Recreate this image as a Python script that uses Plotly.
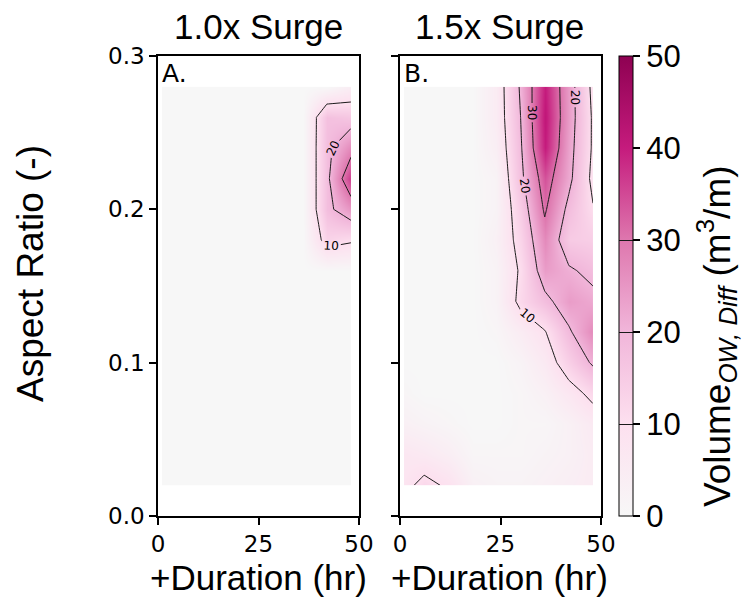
import plotly.graph_objects as go

# Storm duration added (hr) and structure aspect ratio (-)
duration_hr = [1, 6, 12, 18, 24, 30, 36, 42, 48]
aspect_ratio = [0.02, 0.04, 0.06, 0.08, 0.10, 0.12, 0.14,
                0.16, 0.18, 0.20, 0.22, 0.24, 0.26, 0.28]

# Overwash volume difference (m^3/m), rows follow aspect_ratio, columns follow duration_hr
vol_surge_1p0x = [
    [0, 0, 0, 0, 0, 0, 0, 0, 0],
    [0, 0, 0, 0, 0, 0, 0, 0, 0],
    [0, 0, 0, 0, 0, 0, 0, 0, 0],
    [0, 0, 0, 0, 0, 0, 0, 0, 0],
    [0, 0, 0, 0, 0, 0, 0, 0, 0],
    [0, 0, 0, 0, 0, 0, 0, 0, 0],
    [0, 0, 0, 0, 0, 0, 0, 0, 0],
    [0, 0, 0, 0, 0, 0, 0, 0, 0],
    [0, 0, 0, 0, 0, 0, 0, 13, 11],
    [0, 0, 0, 0, 0, 0, 0, 18, 25],
    [0, 0, 0, 0, 0, 0, 0, 18, 37],
    [0, 0, 0, 0, 0, 0, 0, 18, 27],
    [0, 0, 0, 0, 0, 0, 0, 17.6, 16],
    [0, 0, 0, 0, 0, 0, 0, 0, 4],
]

vol_surge_1p5x = [
    [8, 12, 9, 3, 2, 2, 3, 4, 5],
    [7, 6, 4, 1, 1, 1, 2, 3, 5],
    [3, 2, 1, 0, 0, 1, 1, 3, 6],
    [1, 0, 0, 0, 0, 1, 3, 7, 12],
    [0, 0, 0, 0, 0, 2, 6, 14, 21],
    [0, 0, 0, 0, 1, 5, 9.5, 19, 27],
    [0, 0, 0, 0, 2, 12, 18, 24, 22],
    [0, 0, 0, 0, 2, 11, 24, 21, 18],
    [0, 0, 0, 0, 3, 13, 27, 15, 14],
    [0, 0, 0, 0, 2, 15, 31, 18, 10.5],
    [0, 0, 0, 0, 2, 18, 34, 22, 8],
    [0, 0, 0, 0, 4, 19, 40, 23, 9],
    [0, 0, 0, 0, 5, 20, 41, 24, 9],
    [0, 0, 0, 0, 5, 21, 40, 24, 8],
]

panel_titles = ["1.0x Surge", "1.5x Surge"]
panel_letters = ["A.", "B."]
x_ticks = [0, 25, 50]
y_ticks = [0.0, 0.1, 0.2, 0.3]
cbar_ticks = [0, 10, 20, 30, 40, 50]

# pink half of a diverging PiYG map, grey-white at zero
pink_scale = [
    [0.0, "#f7f7f7"],
    [0.2, "#fde0ef"],
    [0.4, "#f1b6da"],
    [0.6, "#de77ae"],
    [0.8, "#c51b7d"],
    [1.0, "#8e0152"],
]

W, H = 744, 605
ARIAL = "Liberation Sans"
DEJAVU = "DejaVu Sans"


def px_x(p):
    return p / W


def px_y(p):
    return 1 - p / H


contour_style = dict(
    x=duration_hr,
    y=aspect_ratio,
    zmin=0,
    zmax=50,
    colorscale=pink_scale,
    autocontour=False,
    contours=dict(
        start=10, end=30, size=10,
        coloring="heatmap",
        showlabels=True,
        labelfont=dict(family=DEJAVU, size=12, color="black"),
    ),
    line=dict(color="#1a1a1a", width=1, smoothing=0),
    hoverinfo="skip",
)

fig = go.Figure()
fig.add_trace(go.Contour(z=vol_surge_1p0x, xaxis="x", yaxis="y",
                         showscale=False, **contour_style))
fig.add_trace(go.Contour(
    z=vol_surge_1p5x, xaxis="x2", yaxis="y2", showscale=True,
    colorbar=dict(
        x=px_x(619), xanchor="left", xpad=0,
        y=px_y(516), yanchor="bottom", ypad=0,
        len=460 / H, lenmode="fraction",
        thickness=14, thicknessmode="pixels",
        outlinewidth=1, outlinecolor="black",
        tickvals=cbar_ticks, ticks="outside", ticklen=7,
        tickwidth=1.5, tickcolor="black",
        tickfont=dict(family=ARIAL, size=31, color="black"),
    ),
    **contour_style))

axis_common = dict(
    showline=True, linecolor="black", linewidth=1.5, mirror=True,
    ticks="outside", ticklen=7, tickwidth=1.5, tickcolor="black",
    showgrid=False, zeroline=False,
    tickfont=dict(family=DEJAVU, size=23, color="black"),
)

fig.update_layout(
    width=W, height=H,
    margin=dict(l=0, r=0, t=0, b=0, autoexpand=False),
    paper_bgcolor="white",
    plot_bgcolor="white",
    showlegend=False,
    xaxis=dict(domain=[px_x(158), px_x(359)], range=[0, 50],
               tickvals=x_ticks, anchor="y", **axis_common),
    yaxis=dict(domain=[px_y(516), px_y(56)], range=[0, 0.3],
               tickvals=y_ticks, tickformat=".1f", anchor="x", **axis_common),
    xaxis2=dict(domain=[px_x(400), px_x(601)], range=[0, 50],
                tickvals=x_ticks, anchor="y2", **axis_common),
    yaxis2=dict(domain=[px_y(516), px_y(56)], range=[0, 0.3],
                tickvals=y_ticks, showticklabels=False, anchor="x2",
                **axis_common),
)

annotations = []
for i, (cx, left) in enumerate([(258, 160), (500, 402)]):
    annotations.append(dict(
        text=panel_titles[i], x=px_x(cx), y=px_y(27), xref="paper", yref="paper",
        showarrow=False, xanchor="center", yanchor="middle",
        font=dict(family=ARIAL, size=35, color="black")))
    annotations.append(dict(
        text="+Duration (hr)", x=px_x(cx), y=px_y(577), xref="paper", yref="paper",
        showarrow=False, xanchor="center", yanchor="middle",
        font=dict(family=ARIAL, size=35, color="black")))
    annotations.append(dict(
        text=panel_letters[i], x=px_x(left), y=px_y(73), xref="paper", yref="paper",
        showarrow=False, xanchor="left", yanchor="middle",
        font=dict(family=DEJAVU, size=25, color="black")))

annotations.append(dict(
    text="Aspect Ratio (-)", x=px_x(30), y=px_y(274), xref="paper", yref="paper",
    showarrow=False, textangle=-90, xanchor="center", yanchor="middle",
    font=dict(family=ARIAL, size=37, color="black")))
annotations.append(dict(
    text="Volume<sub><i>OW, Diff</i></sub> (m<sup>3</sup>/m)",
    x=px_x(716), y=px_y(336), xref="paper", yref="paper",
    showarrow=False, textangle=-90, xanchor="center", yanchor="middle",
    font=dict(family=ARIAL, size=37, color="black")))

fig.update_layout(annotations=annotations)
fig.write_html("out.html")
